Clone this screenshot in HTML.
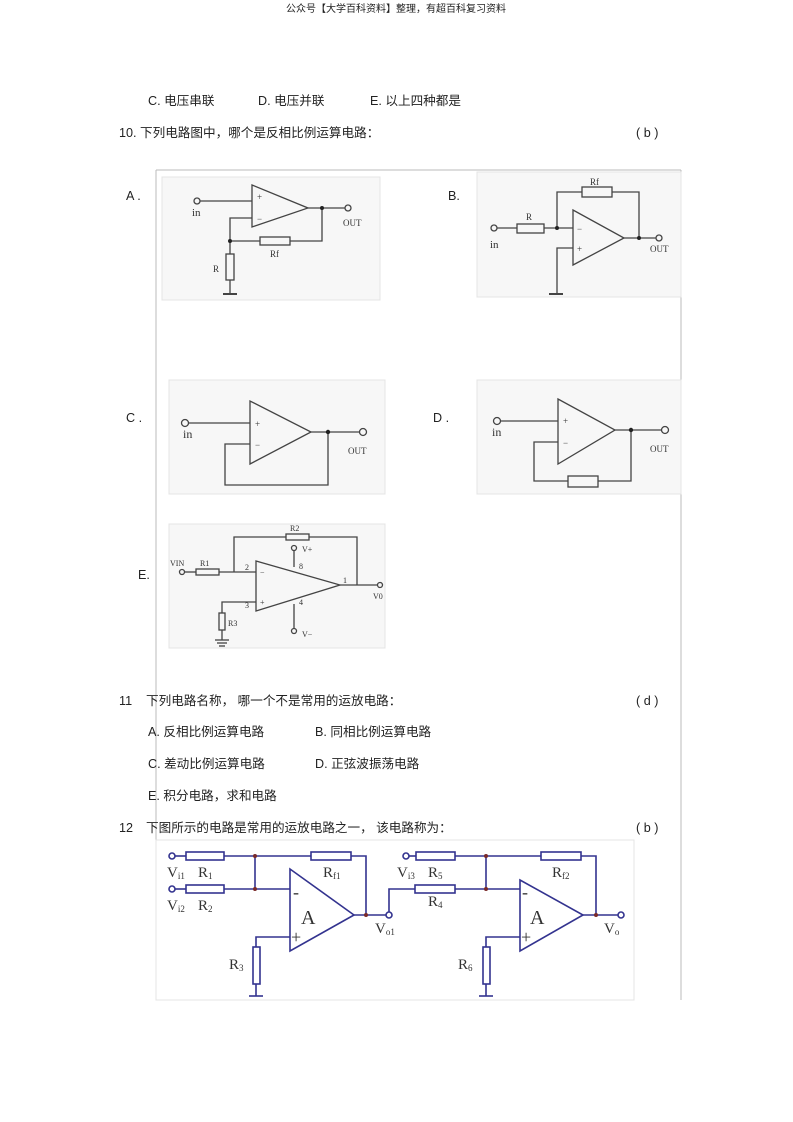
<!DOCTYPE html>
<html><head><meta charset="utf-8"><style>
html,body{margin:0;padding:0;background:#fff}
svg{display:block}
.t{font-family:"Liberation Sans","Noto Sans CJK SC",sans-serif;font-size:12.6px;fill:#222}
.s{font-family:"Liberation Serif",serif;font-size:9px;fill:#333}
.k{stroke:#444;stroke-width:1.3;fill:none}
.b{stroke:#33338f;stroke-width:1.6;fill:none}
.bt{font-family:"Liberation Serif",serif;font-size:15px;fill:#333}
</style></head><body>
<svg width="793" height="1122" viewBox="0 0 793 1122" xmlns="http://www.w3.org/2000/svg">
<text x="396" y="12" text-anchor="middle" class="t" style="font-size:10px">公众号【大学百科资料】整理，有超百科复习资料</text>
<text x="148" y="105" class="t">C.  电压串联</text>
<text x="258" y="105" class="t">D.  电压并联</text>
<text x="370" y="105" class="t">E.  以上四种都是</text>
<text x="119" y="137" class="t">10.  下列电路图中，哪个是反相比例运算电路：</text>
<text x="636" y="137" class="t">(  b   )</text>

<!-- frame -->
<g stroke="#bbb" stroke-width="1">
<line x1="156" y1="170" x2="681" y2="170"/>
<line x1="156" y1="170" x2="156" y2="1000"/>
<line x1="681" y1="170" x2="681" y2="1000"/>
</g>
<g fill="#f7f7f7" stroke="#e4e4e4">
<rect x="162" y="177" width="218" height="123"/>
<rect x="477" y="172" width="204" height="125"/>
<rect x="169" y="380" width="216" height="114"/>
<rect x="477" y="380" width="204" height="114"/>
<rect x="169" y="524" width="216" height="124"/>
</g>
<text x="126" y="200" class="t">A .</text>
<text x="448" y="200" class="t">B.</text>
<text x="126" y="422" class="t">C .</text>
<text x="433" y="422" class="t">D .</text>
<text x="138" y="579" class="t">E.</text>

<!-- A -->
<g class="k">
<circle cx="197" cy="201" r="3"/><line x1="200" y1="201" x2="252" y2="201"/>
<polygon points="252,185 252,227 308,208"/>
<line x1="308" y1="208" x2="345" y2="208"/><circle cx="348" cy="208" r="3"/>
<polyline points="252,218 230,218 230,254"/><line x1="230" y1="241" x2="260" y2="241"/>
<rect x="260" y="237" width="30" height="8"/><polyline points="290,241 322,241 322,208"/>
<rect x="226" y="254" width="8" height="26"/><line x1="230" y1="280" x2="230" y2="294"/>
<line x1="223" y1="294" x2="237" y2="294" stroke-width="2"/>
</g>
<circle cx="322" cy="208" r="2" fill="#222"/><circle cx="230" cy="241" r="2" fill="#222"/>
<text x="192" y="216" class="s" style="font-size:11px">in</text>
<text x="343" y="226" class="s">OUT</text>
<text x="213" y="272" class="s">R</text>
<text x="270" y="257" class="s">Rf</text>
<text x="257" y="200" class="s">+</text><text x="257" y="222" class="s">−</text>

<!-- B -->
<g class="k">
<circle cx="494" cy="228" r="3"/><line x1="497" y1="228" x2="517" y2="228"/>
<rect x="517" y="224" width="27" height="9"/><line x1="544" y1="228" x2="573" y2="228"/>
<polygon points="573,210 573,265 624,238"/>
<polyline points="557,228 557,192 582,192"/><rect x="582" y="187" width="30" height="10"/>
<polyline points="612,192 639,192 639,238"/>
<line x1="624" y1="238" x2="656" y2="238"/><circle cx="659" cy="238" r="3"/>
<polyline points="573,248 557,248 557,294"/>
<line x1="549" y1="294" x2="563" y2="294" stroke-width="2"/>
</g>
<circle cx="557" cy="228" r="2" fill="#222"/><circle cx="639" cy="238" r="2" fill="#222"/>
<text x="490" y="248" class="s" style="font-size:11px">in</text>
<text x="650" y="252" class="s">OUT</text>
<text x="526" y="220" class="s">R</text>
<text x="590" y="185" class="s">Rf</text>
<text x="577" y="232" class="s">−</text><text x="577" y="252" class="s">+</text>

<!-- C -->
<g class="k">
<circle cx="185" cy="423" r="3.5"/><line x1="189" y1="423" x2="250" y2="423"/>
<polygon points="250,401 250,464 311,432"/>
<line x1="311" y1="432" x2="359" y2="432"/><circle cx="363" cy="432" r="3.5"/>
<polyline points="250,444 225,444 225,485 328,485 328,432"/>
</g>
<circle cx="328" cy="432" r="2.2" fill="#222"/>
<text x="183" y="438" class="s" style="font-size:12px">in</text>
<text x="348" y="454" class="s">OUT</text>
<text x="255" y="427" class="s">+</text><text x="255" y="448" class="s">−</text>

<!-- D -->
<g class="k">
<circle cx="497" cy="421" r="3.5"/><line x1="501" y1="421" x2="558" y2="421"/>
<polygon points="558,399 558,464 615,430"/>
<line x1="615" y1="430" x2="661" y2="430"/><circle cx="665" cy="430" r="3.5"/>
<polyline points="558,442 534,442 534,481 568,481"/><rect x="568" y="476" width="30" height="11"/>
<polyline points="598,481 631,481 631,430"/>
</g>
<circle cx="631" cy="430" r="2.2" fill="#222"/>
<text x="492" y="436" class="s" style="font-size:12px">in</text>
<text x="650" y="452" class="s">OUT</text>
<text x="563" y="424" class="s">+</text><text x="563" y="446" class="s">−</text>

<!-- E -->
<g class="k" stroke-width="1.1">
<circle cx="182" cy="572" r="2.5"/><line x1="184" y1="572" x2="196" y2="572"/>
<rect x="196" y="569" width="23" height="6"/><line x1="219" y1="572" x2="256" y2="572"/>
<polygon points="256,561 256,611 340,585"/>
<polyline points="234,572 234,537 286,537"/><rect x="286" y="534" width="23" height="6"/>
<polyline points="309,537 357,537 357,585"/>
<line x1="340" y1="585" x2="377" y2="585"/><circle cx="380" cy="585" r="2.5"/>
<line x1="294" y1="567" x2="294" y2="551"/><circle cx="294" cy="548" r="2.5"/>
<line x1="294" y1="604" x2="294" y2="628"/><circle cx="294" cy="631" r="2.5"/>
<polyline points="256,602 222,602 222,613"/><rect x="219" y="613" width="6" height="17"/>
<line x1="222" y1="630" x2="222" y2="640"/>
<line x1="215" y1="640" x2="229" y2="640"/><line x1="217" y1="643" x2="227" y2="643"/><line x1="219" y1="646" x2="225" y2="646"/>
</g>
<g class="s" style="font-size:8px">
<text x="170" y="566">VIN</text><text x="200" y="566">R1</text><text x="245" y="570">2</text>
<text x="245" y="608">3</text><text x="299" y="569">8</text><text x="299" y="605">4</text>
<text x="343" y="583">1</text><text x="290" y="531">R2</text><text x="302" y="552">V+</text>
<text x="302" y="637">V−</text><text x="228" y="626">R3</text><text x="373" y="599">V0</text>
<text x="260" y="575">−</text><text x="260" y="605">+</text>
</g>

<text x="119" y="705" class="t">11</text>
<text x="146" y="705" class="t">下列电路名称，  哪一个不是常用的运放电路：</text>
<text x="636" y="705" class="t">(  d   )</text>
<text x="148" y="736" class="t">A.  反相比例运算电路</text>
<text x="315" y="736" class="t">B.  同相比例运算电路</text>
<text x="148" y="768" class="t">C.  差动比例运算电路</text>
<text x="315" y="768" class="t">D.  正弦波振荡电路</text>
<text x="148" y="800" class="t">E.  积分电路，求和电路</text>
<text x="119" y="832" class="t">12</text>
<text x="146" y="832" class="t">下图所示的电路是常用的运放电路之一，    该电路称为：</text>
<text x="636" y="832" class="t">(  b   )</text>

<!-- 12 -->
<rect x="156" y="840" width="478" height="160" fill="#fff" stroke="#e4e4e4"/>
<g class="b">
<circle cx="172" cy="856" r="3"/><line x1="175" y1="856" x2="186" y2="856"/>
<rect x="186" y="852" width="38" height="8"/><line x1="224" y1="856" x2="311" y2="856"/>
<rect x="311" y="852" width="40" height="8"/><polyline points="351,856 366,856 366,915"/>
<line x1="255" y1="856" x2="255" y2="889"/>
<circle cx="172" cy="889" r="3"/><line x1="175" y1="889" x2="186" y2="889"/>
<rect x="186" y="885" width="38" height="8"/><line x1="224" y1="889" x2="290" y2="889"/>
<polygon points="290,869 290,951 354,915"/>
<line x1="354" y1="915" x2="386" y2="915"/><circle cx="389" cy="915" r="3"/>
<polyline points="290,937 256,937 256,947"/><rect x="253" y="947" width="7" height="37"/>
<line x1="256" y1="984" x2="256" y2="996"/><line x1="249" y1="996" x2="263" y2="996"/>
<polyline points="389,912 389,889 415,889"/><rect x="415" y="885" width="40" height="8"/>
<line x1="455" y1="889" x2="520" y2="889"/>
<circle cx="406" cy="856" r="3"/><line x1="409" y1="856" x2="416" y2="856"/>
<rect x="416" y="852" width="39" height="8"/><line x1="455" y1="856" x2="541" y2="856"/>
<rect x="541" y="852" width="40" height="8"/><polyline points="581,856 596,856 596,915"/>
<line x1="486" y1="856" x2="486" y2="889"/>
<polygon points="520,880 520,951 583,915"/>
<line x1="583" y1="915" x2="618" y2="915"/><circle cx="621" cy="915" r="3"/>
<polyline points="520,937 486,937 486,947"/><rect x="483" y="947" width="7" height="37"/>
<line x1="486" y1="984" x2="486" y2="996"/><line x1="479" y1="996" x2="493" y2="996"/>
</g>
<g fill="#7a2a2a"><circle cx="255" cy="856" r="2"/><circle cx="255" cy="889" r="2"/><circle cx="366" cy="915" r="2"/>
<circle cx="486" cy="856" r="2"/><circle cx="486" cy="889" r="2"/><circle cx="596" cy="915" r="2"/></g>
<g class="bt">
<text x="167" y="877">V<tspan font-size="9" dy="2">i1</tspan></text><text x="198" y="877">R<tspan font-size="9" dy="2">1</tspan></text>
<text x="167" y="910">V<tspan font-size="9" dy="2">i2</tspan></text><text x="198" y="910">R<tspan font-size="9" dy="2">2</tspan></text>
<text x="323" y="877">R<tspan font-size="9" dy="2">f1</tspan></text>
<text x="375" y="933">V<tspan font-size="9" dy="2">o1</tspan></text>
<text x="397" y="877">V<tspan font-size="9" dy="2">i3</tspan></text><text x="428" y="877">R<tspan font-size="9" dy="2">5</tspan></text>
<text x="428" y="906">R<tspan font-size="9" dy="2">4</tspan></text>
<text x="552" y="877">R<tspan font-size="9" dy="2">f2</tspan></text>
<text x="604" y="933">V<tspan font-size="9" dy="2">o</tspan></text>
<text x="229" y="969">R<tspan font-size="9" dy="2">3</tspan></text>
<text x="458" y="969">R<tspan font-size="9" dy="2">6</tspan></text>
<text x="301" y="924" font-size="20">A</text><text x="530" y="924" font-size="20">A</text>
<text x="293" y="898" font-size="18">-</text><text x="291" y="943" font-size="18">+</text>
<text x="522" y="898" font-size="18">-</text><text x="521" y="943" font-size="18">+</text>
</g>
</svg>
</body></html>
